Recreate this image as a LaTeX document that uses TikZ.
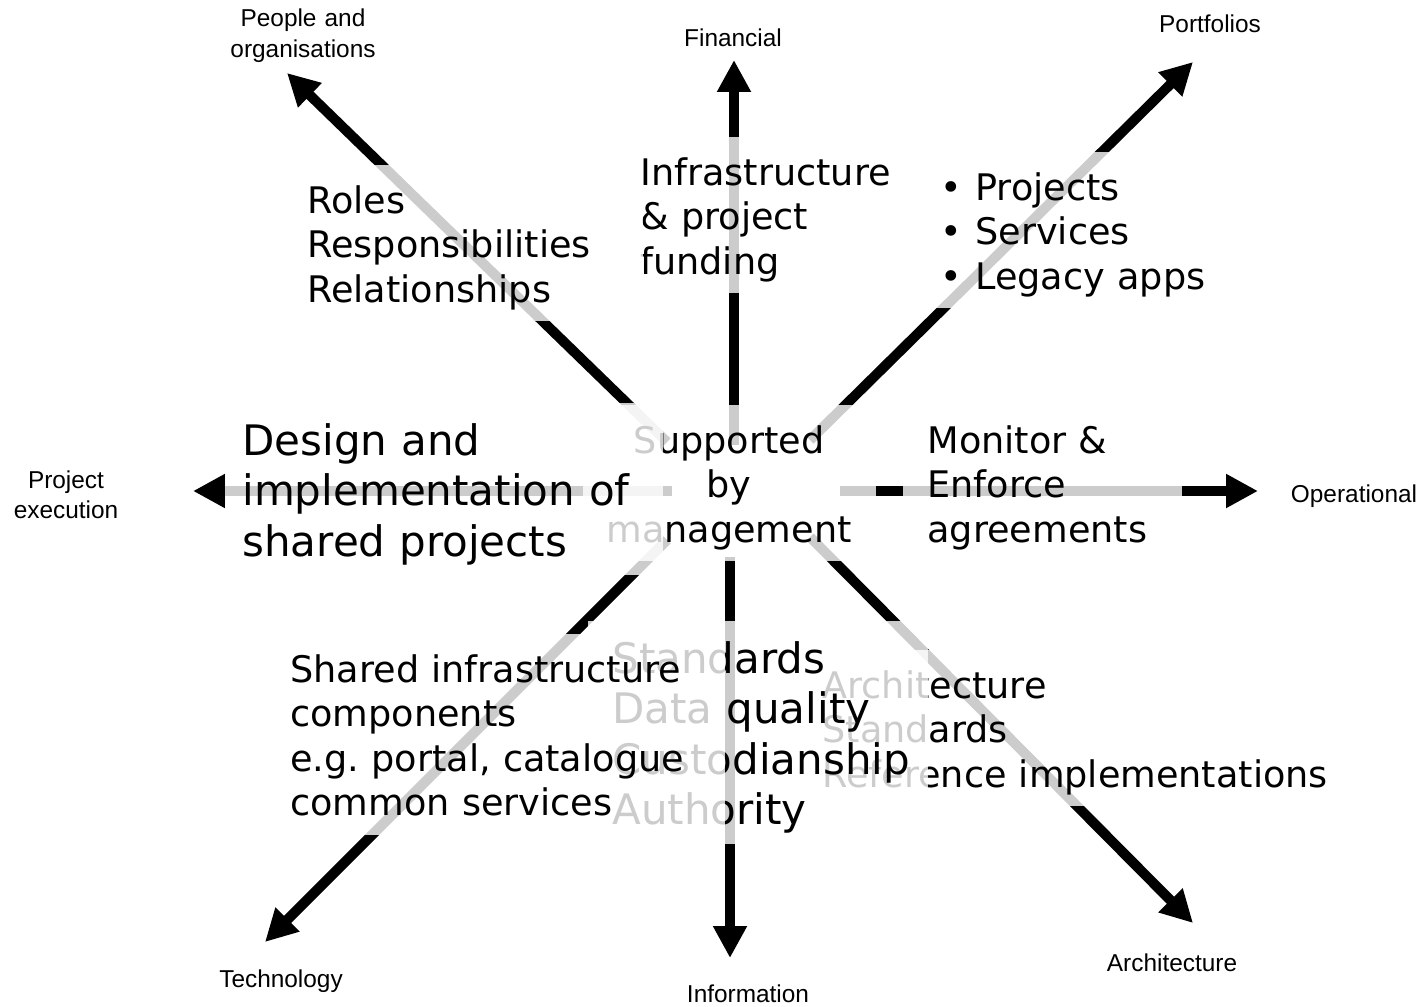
\documentclass[tikz,border=0pt]{standalone}
\usepackage{fontspec}
\setmainfont{DejaVu Sans}
\newfontfamily\labelfont{Liberation Sans}
\usetikzlibrary{arrows.meta}
\frenchspacing
\newcommand{\midfont}{\fontsize{18.3}{22.3}\selectfont}
\newcommand{\bigfont}{\fontsize{21}{25.3}\selectfont}
\newcommand{\tailstrut}{\rule[-4.5pt]{0pt}{4.5pt}}
\newcommand{\bitem}[1]{\makebox[17.5pt][l]{\textbullet}#1}
\tikzset{
  hubarrow/.style={line width=5pt, -{Triangle[length=16pt,width=16pt]}},
  veil/.style={fill=white, fill opacity=0.8, text opacity=1, inner xsep=12pt, inner ysep=5pt,
    text height=19pt, align=left, anchor=base west, font=\midfont},
  bigveil/.style={veil, text height=21pt, font=\bigfont},
  axislabel/.style={font=\labelfont\fontsize{12.2}{15.2}\selectfont, align=center, anchor=base,
    inner sep=0pt, text width=80pt},
}
\begin{document}
\begin{tikzpicture}[x=0.5pt, y=-0.5pt]
  \useasboundingbox[fill=white] (0,0) rectangle (1423,1006);
  %arrows
  \coordinate (hubN) at (734,445);  \coordinate (tipN) at (734,60);
  \coordinate (hubS) at (730,557);  \coordinate (tipS) at (730,958);
  \coordinate (hubW) at (672,491);  \coordinate (tipW) at (193,491);
  \coordinate (hubE) at (840,491);  \coordinate (tipE) at (1258,491);
  \coordinate (hubNW) at (667,442); \coordinate (tipNW) at (287,73);
  \coordinate (hubNE) at (810,440); \coordinate (tipNE) at (1193,62);
  \coordinate (hubSW) at (667,540); \coordinate (tipSW) at (265,942);
  \coordinate (hubSE) at (810,537); \coordinate (tipSE) at (1193,923);
  \path[hubarrow]
    (hubN) edge (tipN)
    (hubS) edge (tipS)
    (hubW) edge (tipW)
    (hubE) edge (tipE)
    (hubNW) edge (tipNW)
    (hubNE) edge (tipNE)
    (hubSW) edge (tipSW)
    (hubSE) edge (tipSE);
  %boxes
  \node[veil, text width=255.5pt] at (798,698) (archbox)
    {Architecture\\Standards\\Reference implementations\tailstrut};
  \node[bigveil, text width=146pt] at (588,673) (stdbox)
    {Standards\\Data quality\\Custodianship\\Authority\tailstrut};
  \node[veil, text width=205.5pt] at (266,682) (sharedbox)
    {Shared infrastructure\\components\\e.g. portal, catalogue\\common services\tailstrut};
  \node[veil, anchor=base, align=center, text width=122.5pt] at (729,453) (hubbox)
    {Supported\\by\\management\tailstrut};
  \node[bigveil, inner xsep=8.5pt, text width=202pt] at (225,455) (designbox)
    {Design and\\implementation of\\shared projects\tailstrut};
  \node[veil, text width=130pt] at (616,185) (fundbox)
    {Infrastructure\\\& project\\funding\tailstrut};
  \node[veil, text width=156pt] at (283,213) (rolebox)
    {Roles\\Responsibilities\\Relationships\tailstrut};
  \node[veil, text width=135pt] at (916,200) (portbox)
    {\bitem{Projects}\\\bitem{Services}\\\bitem{Legacy apps}\tailstrut};
  \node[veil, text width=115.5pt] at (903,453) (opsbox)
    {Monitor \&\\Enforce\\agreements\tailstrut};
  %labels
  \node[axislabel] at (303,27) (people) {People and\\organisations};
  \node[axislabel] at (733,47) (financial) {Financial};
  \node[axislabel] at (1210,33) (portfolios) {Portfolios};
  \node[axislabel] at (66,488) (execution) {Project\\execution};
  \node[axislabel] at (1354,502) (operational) {Operational};
  \node[axislabel] at (281,987) (technology) {Technology};
  \node[axislabel] at (748,1002) (information) {Information};
  \node[axislabel] at (1172,971) (architecture) {Architecture};
\end{tikzpicture}
\end{document}
